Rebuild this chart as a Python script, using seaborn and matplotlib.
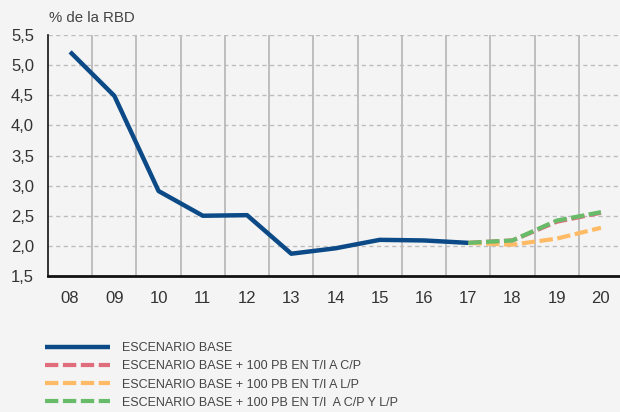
import numpy as np
import pandas as pd
import seaborn as sns
import matplotlib.pyplot as plt
from matplotlib.lines import Line2D

# ==========================================
# DATA
# ==========================================
year_labels = ['08', '09', '10', '11', '12', '13', '14', '15', '16', '17', '18', '19', '20']
base_pos = [0, 1, 2, 3, 4, 5, 6, 7, 8, 9]
base_vals = [5.22, 4.49, 2.91, 2.50, 2.51, 1.87, 1.96, 2.10, 2.09, 2.05]
proj_pos = [9, 10, 11, 12]
cp_vals = [2.05, 2.09, 2.40, 2.55]
lp_vals = [2.05, 2.02, 2.12, 2.30]
cp_lp_vals = [2.05, 2.09, 2.42, 2.56]

series_names = [
    'ESCENARIO BASE',
    'ESCENARIO BASE + 100 PB EN T/I A C/P',
    'ESCENARIO BASE + 100 PB EN T/I A L/P',
    'ESCENARIO BASE + 100 PB EN T/I  A C/P Y L/P',
]
colors = ['#0b4a86', '#e06d7c', '#ffba66', '#68bb68']

df = pd.concat([
    pd.DataFrame({'pos': base_pos, 'val': base_vals, 'serie': series_names[0]}),
    pd.DataFrame({'pos': proj_pos, 'val': cp_vals, 'serie': series_names[1]}),
    pd.DataFrame({'pos': proj_pos, 'val': lp_vals, 'serie': series_names[2]}),
    pd.DataFrame({'pos': proj_pos, 'val': cp_lp_vals, 'serie': series_names[3]}),
])

# ==========================================
# FIGURE
# ==========================================
sns.set_style('white')
plt.rcParams['font.family'] = ['Liberation Sans', 'DejaVu Sans']
bg = '#f4f4f4'
fig = plt.figure(figsize=(6.2, 4.12), dpi=100, facecolor=bg)
ax = fig.add_axes([48 / 620, 136 / 412, 575 / 620, 241 / 412], facecolor=bg)

lw = 3.0
dash = (3.2, 1.1)
# draw projections first so the base line sits on top
for name, col in zip(series_names[1:], colors[1:]):
    sub = df[df['serie'] == name]
    sns.lineplot(data=sub, x='pos', y='val', color=col, lw=lw, ax=ax,
                 legend=False, dashes=False, zorder=3)
    ax.lines[-1].set_dashes(dash)
    ax.lines[-1].set_dash_capstyle('butt')
sub = df[df['serie'] == series_names[0]]
sns.lineplot(data=sub, x='pos', y='val', color=colors[0], lw=lw + 0.2, ax=ax,
             legend=False, zorder=4)
ax.lines[-1].set_solid_capstyle('butt')

ax.set_xlim(-0.5, 12.5)
ax.set_ylim(1.5, 5.5)
ax.set_xticks(range(len(year_labels)))
ax.set_xticklabels(year_labels)
ax.set_xticks(np.arange(0.5, 12.5, 1), minor=True)
yt = np.arange(1.5, 5.51, 0.5)
ax.set_yticks(yt)
ax.set_yticklabels([f'{v:.1f}'.replace('.', ',') for v in yt])
ax.set_xlabel('')
ax.set_ylabel('')

ax.grid(True, axis='x', which='minor', color='#b0b0b0', lw=1.1, linestyle='-')
ax.grid(True, axis='y', which='major', color='#bdbdbd', lw=1.0, linestyle=(0, (3, 2.5)))
ax.grid(False, axis='x', which='major')
ax.set_axisbelow(True)

ax.tick_params(axis='x', which='major', length=0, pad=11, labelsize=12, labelcolor='#333333')
ax.tick_params(axis='x', which='minor', direction='in', length=4, width=1.1, color='#333333')
ax.tick_params(axis='y', direction='in', length=4, width=1, color='#333333', pad=10,
               labelsize=12, labelcolor='#333333')

for s in ['top', 'right']:
    ax.spines[s].set_visible(False)
ax.spines['left'].set_color('#111111')
ax.spines['left'].set_linewidth(1.2)
ax.spines['bottom'].set_color('#111111')
ax.spines['bottom'].set_linewidth(2)

fig.text(49 / 620, 1 - 18 / 412, '% de la RBD', fontsize=10.8, color='#444444',
         ha='left', va='center')

handles = [Line2D([], [], color=colors[0], lw=lw + 0.2, solid_capstyle='butt')]
for col in colors[1:]:
    h = Line2D([], [], color=col, lw=lw, dash_capstyle='butt')
    h.set_dashes(dash)
    handles.append(h)
fig.legend(handles, series_names, loc='upper left', bbox_to_anchor=(40 / 620, 1 - 337 / 412),
           frameon=False, fontsize=9, handlelength=5.2, handletextpad=0.95,
           labelspacing=0.5, borderaxespad=0, labelcolor='#444444')

fig.savefig('out.png', dpi=100, facecolor=bg)
